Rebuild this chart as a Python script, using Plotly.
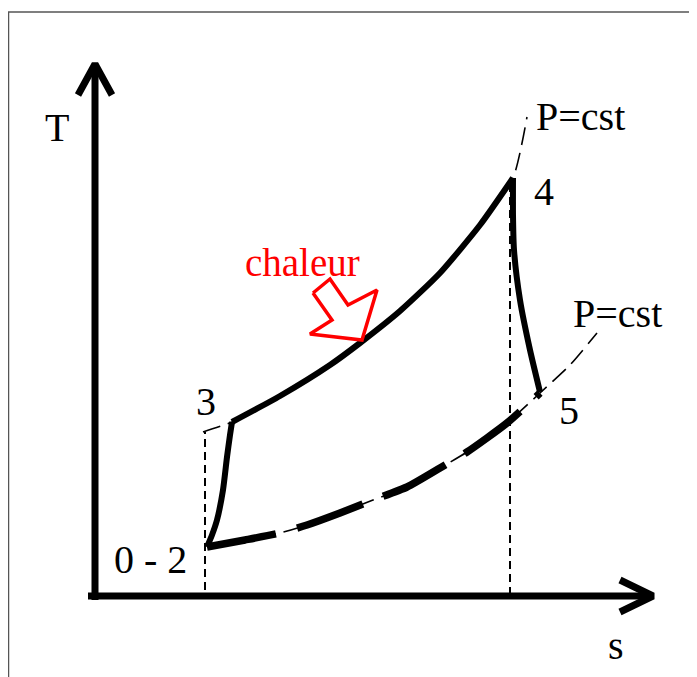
import plotly.graph_objects as go

W, H = 697, 677
PAGE_MARGIN = 8  # default body margin of the html page

# ---- data (diagram coordinates: s to the right, T upwards) ----
state_labels = ["0 - 2", "3", "4", "5"]
state_label_s = [150, 206, 544, 569]
state_label_T = [118, 276, 486, 267]

# compression 2 -> 3
comp_s = [207, 212, 217, 223, 227, 230, 232]
comp_T = [130, 142, 157, 187, 220, 242, 255]
# heating 3 -> 4 (P = cst)
heat_s = [232, 280, 330, 360, 400, 440, 480, 513]
heat_T = [255, 281, 312, 334, 366, 404, 452, 499]
# expansion 4 -> 5
exp_s = [513, 513, 514, 520, 530, 540]
exp_T = [499, 462, 427, 377, 327, 285]
# upper isobar (thin dashed)
isoH_s = [203, 232, 280, 330, 360, 400, 440, 480, 513, 527]
isoH_T = [245, 255, 281, 312, 334, 366, 404, 452, 499, 560]
# lower isobar (thin dashed) and cooling 5 -> 2 (thick dashed)
isoL_s = [207, 245, 280, 307, 340, 373, 407, 440, 467, 507, 540, 570, 597]
isoL_T = [130, 137, 144, 152, 164, 177, 190, 209, 225, 254, 284, 312, 344]
cool_s = isoL_s[:11]
cool_T = isoL_T[:11]
# vertical construction lines
vline_s = [205, 510]
vline_T0 = [87, 82]
vline_T1 = [245, 497]

# axes (arrows)
yaxis_s = [95, 95]
yaxis_T = [77, 611]
yhead_s = [78, 95, 112]
yhead_T = [582, 613, 582]
xaxis_s = [88, 652]
xaxis_T = [81, 81]
xhead_s = [620, 653, 620]
xhead_T = [97, 81, 65]
axis_labels = ["T", "s"]
axis_label_s = [57, 616]
axis_label_T = [550, 32]

iso_labels = ["P=cst", "P=cst"]
iso_label_s = [580, 617]
iso_label_T = [561, 364]

heat_label = "chaleur"
heat_label_s = [302]
heat_label_T = [415]
heat_arrow_s = [313, 330, 348, 377, 362, 310, 332, 313]
heat_arrow_T = [384, 398, 372, 387, 337, 343, 357, 384]

FONT = "Liberation Serif"

fig = go.Figure()

def line(xs, ys, width, dash="solid", color="black"):
    fig.add_trace(go.Scatter(x=xs, y=ys, mode="lines", hoverinfo="skip",
                             line=dict(color=color, width=width, dash=dash, shape="spline",
                                       smoothing=0.6),
                             showlegend=False))

# thin dashed isobars and verticals
line(isoH_s, isoH_T, 1.6, "18px,8px")
line(isoL_s, isoL_T, 1.6, "18px,8px")
for s, t0, t1 in zip(vline_s, vline_T0, vline_T1):
    fig.add_trace(go.Scatter(x=[s, s], y=[t0, t1], mode="lines", hoverinfo="skip",
                             line=dict(color="black", width=2, dash="8px,5px"),
                             showlegend=False))

# cycle
line(comp_s, comp_T, 6)
line(heat_s, heat_T, 6)
line(exp_s, exp_T, 6)
line(cool_s, cool_T, 7.5, "70px,22px")

# axes
for xs, ys in [(yaxis_s, yaxis_T), (yhead_s, yhead_T), (xaxis_s, xaxis_T), (xhead_s, xhead_T)]:
    fig.add_trace(go.Scatter(x=xs, y=ys, mode="lines", hoverinfo="skip",
                             line=dict(color="black", width=7),
                             showlegend=False))

# red heat arrow
fig.add_trace(go.Scatter(x=heat_arrow_s, y=heat_arrow_T, mode="lines", hoverinfo="skip",
                         fill="toself", fillcolor="white",
                         line=dict(color="red", width=3.5), showlegend=False))

ann = []
for txt, x, y in zip(state_labels, state_label_s, state_label_T):
    ann.append(dict(text=txt, x=x, y=y))
for txt, x, y in zip(axis_labels, axis_label_s, axis_label_T):
    ann.append(dict(text=txt, x=x, y=y))
for txt, x, y in zip(iso_labels, iso_label_s, iso_label_T):
    ann.append(dict(text=txt, x=x, y=y))
annotations = [dict(a, xref="x", yref="y", showarrow=False,
                    font=dict(family=FONT, size=40, color="black")) for a in ann]
annotations.append(dict(text=heat_label, x=heat_label_s[0], y=heat_label_T[0], xref="x", yref="y",
                        showarrow=False, font=dict(family=FONT, size=39, color="red")))

fig.update_layout(
    width=W - PAGE_MARGIN, height=H - PAGE_MARGIN,
    margin=dict(l=0, r=0, t=0, b=0),
    paper_bgcolor="white", plot_bgcolor="white",
    xaxis=dict(range=[PAGE_MARGIN, W], visible=False, fixedrange=True),
    yaxis=dict(range=[0, H - PAGE_MARGIN], visible=False, fixedrange=True),
    annotations=annotations,
    shapes=[dict(type="rect", xref="x", yref="y", x0=8.5, x1=720, y0=-20, y1=665,
                 line=dict(color="#555555", width=1.5), layer="below")],
)

fig.write_html("out.html", config={"displayModeBar": False})
